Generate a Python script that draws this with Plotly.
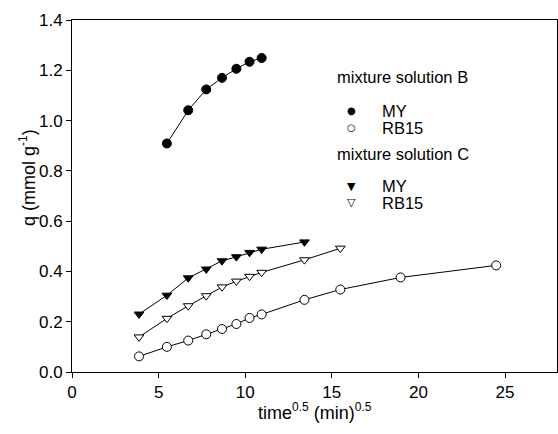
import plotly.graph_objects as go

# time^0.5 values (min^0.5)
x_B_MY = [5.48, 6.71, 7.75, 8.66, 9.49, 10.25, 10.95]
q_B_MY = [0.909, 1.041, 1.124, 1.170, 1.206, 1.234, 1.249]

x_B_RB15 = [3.87, 5.48, 6.71, 7.75, 8.66, 9.49, 10.25, 10.95, 13.42, 15.49, 18.97, 24.49]
q_B_RB15 = [0.062, 0.100, 0.125, 0.150, 0.171, 0.191, 0.215, 0.229, 0.287, 0.328, 0.376, 0.424]

x_C_MY = [3.87, 5.48, 6.71, 7.75, 8.66, 9.49, 10.25, 10.95, 13.42]
q_C_MY = [0.230, 0.305, 0.374, 0.409, 0.442, 0.458, 0.475, 0.488, 0.517]

x_C_RB15 = [3.87, 5.48, 6.71, 7.75, 8.66, 9.49, 10.25, 10.95, 13.42, 15.49]
q_C_RB15 = [0.139, 0.213, 0.263, 0.303, 0.338, 0.361, 0.380, 0.396, 0.446, 0.492]

x_ticks = [0, 5, 10, 15, 20, 25]
y_ticks = [0.0, 0.2, 0.4, 0.6, 0.8, 1.0, 1.2, 1.4]

FONT = "Liberation Sans, Arial, sans-serif"
W, H = 558, 434
ML, MR, MT, MB = 72, 1, 20, 62
PW = W - ML - MR
PH = H - MT - MB


def px(xp):
    return (xp - ML) / PW


def py(yp):
    return (H - MB - yp) / PH


fig = go.Figure()

line_style = dict(color="black", width=1)


def add_series(x, y, symbol, fill, size):
    fig.add_trace(go.Scatter(
        x=x, y=y, mode="lines+markers",
        line=line_style,
        marker=dict(symbol=symbol, size=size, color=fill,
                    line=dict(color="black", width=1)),
        showlegend=False, hoverinfo="x+y"))


add_series(x_B_RB15, q_B_RB15, "circle", "white", 9)
add_series(x_C_RB15, q_C_RB15, "triangle-down", "white", 8.5)
add_series(x_C_MY, q_C_MY, "triangle-down", "black", 8.5)
add_series(x_B_MY, q_B_MY, "circle", "black", 9)

SUP = "<sup><span style='font-size:12px'>{}</span></sup>"

fig.update_xaxes(
    range=[0, 28], tickvals=x_ticks, ticks="outside", ticklen=5,
    tickwidth=1, tickcolor="black", showline=True, linecolor="black",
    linewidth=1, mirror=True, showgrid=False, zeroline=False,
    tickfont=dict(family=FONT, size=17, color="black"))
fig.update_yaxes(
    range=[0, 1.4], tickvals=y_ticks, tickformat=".1f", ticks="outside",
    ticklen=5, tickwidth=1, tickcolor="black", showline=True,
    linecolor="black", linewidth=1, mirror=True, showgrid=False,
    zeroline=False, tickfont=dict(family=FONT, size=17, color="black"))

title_font = dict(family=FONT, size=18, color="black")
ann = []
# x-axis title
ann.append(dict(xref="paper", yref="paper", x=0.5, y=py(411),
                text="time" + SUP.format("0.5") + " (min)" + SUP.format("0.5"),
                showarrow=False, xanchor="center", yanchor="middle",
                font=title_font))
# y-axis title
ann.append(dict(xref="paper", yref="paper", x=px(27), y=py(178),
                text="q (mmol g" + SUP.format("-1") + ")", textangle=-90,
                showarrow=False, xanchor="center", yanchor="middle",
                font=title_font))

# legend headings and labels
legend_font = dict(family=FONT, size=16.5, color="black")
headings = [("mixture solution B", 76.7), ("mixture solution C", 154)]
for t, yy in headings:
    ann.append(dict(xref="paper", yref="paper", x=px(335), y=py(yy), text=t,
                    showarrow=False, xanchor="left", yanchor="middle",
                    font=legend_font))

keys = [("\u25CF", "MY", 110.7, 10), ("\u25CB", "RB15", 127.7, 10),
        ("\u25BC", "MY", 186, 11), ("\u25BD", "RB15", 202.7, 11)]
for sym, lab, yy, fs in keys:
    ann.append(dict(xref="paper", yref="paper", x=px(351.7), y=py(yy),
                    text=sym, showarrow=False, xanchor="center",
                    yanchor="middle",
                    font=dict(family="DejaVu Sans", size=fs, color="black")))
    ann.append(dict(xref="paper", yref="paper", x=px(380), y=py(yy),
                    text=lab, showarrow=False, xanchor="left",
                    yanchor="middle", font=legend_font))

fig.update_layout(
    width=W, height=H, margin=dict(l=ML, r=MR, t=MT, b=MB),
    paper_bgcolor="white", plot_bgcolor="white", annotations=ann,
    font=dict(family=FONT, size=16, color="black"))

fig.write_html(
    "out.html",
    config={"displayModeBar": False},
    post_script="document.body.style.margin='0';"
                "document.body.style.overflow='hidden';")
